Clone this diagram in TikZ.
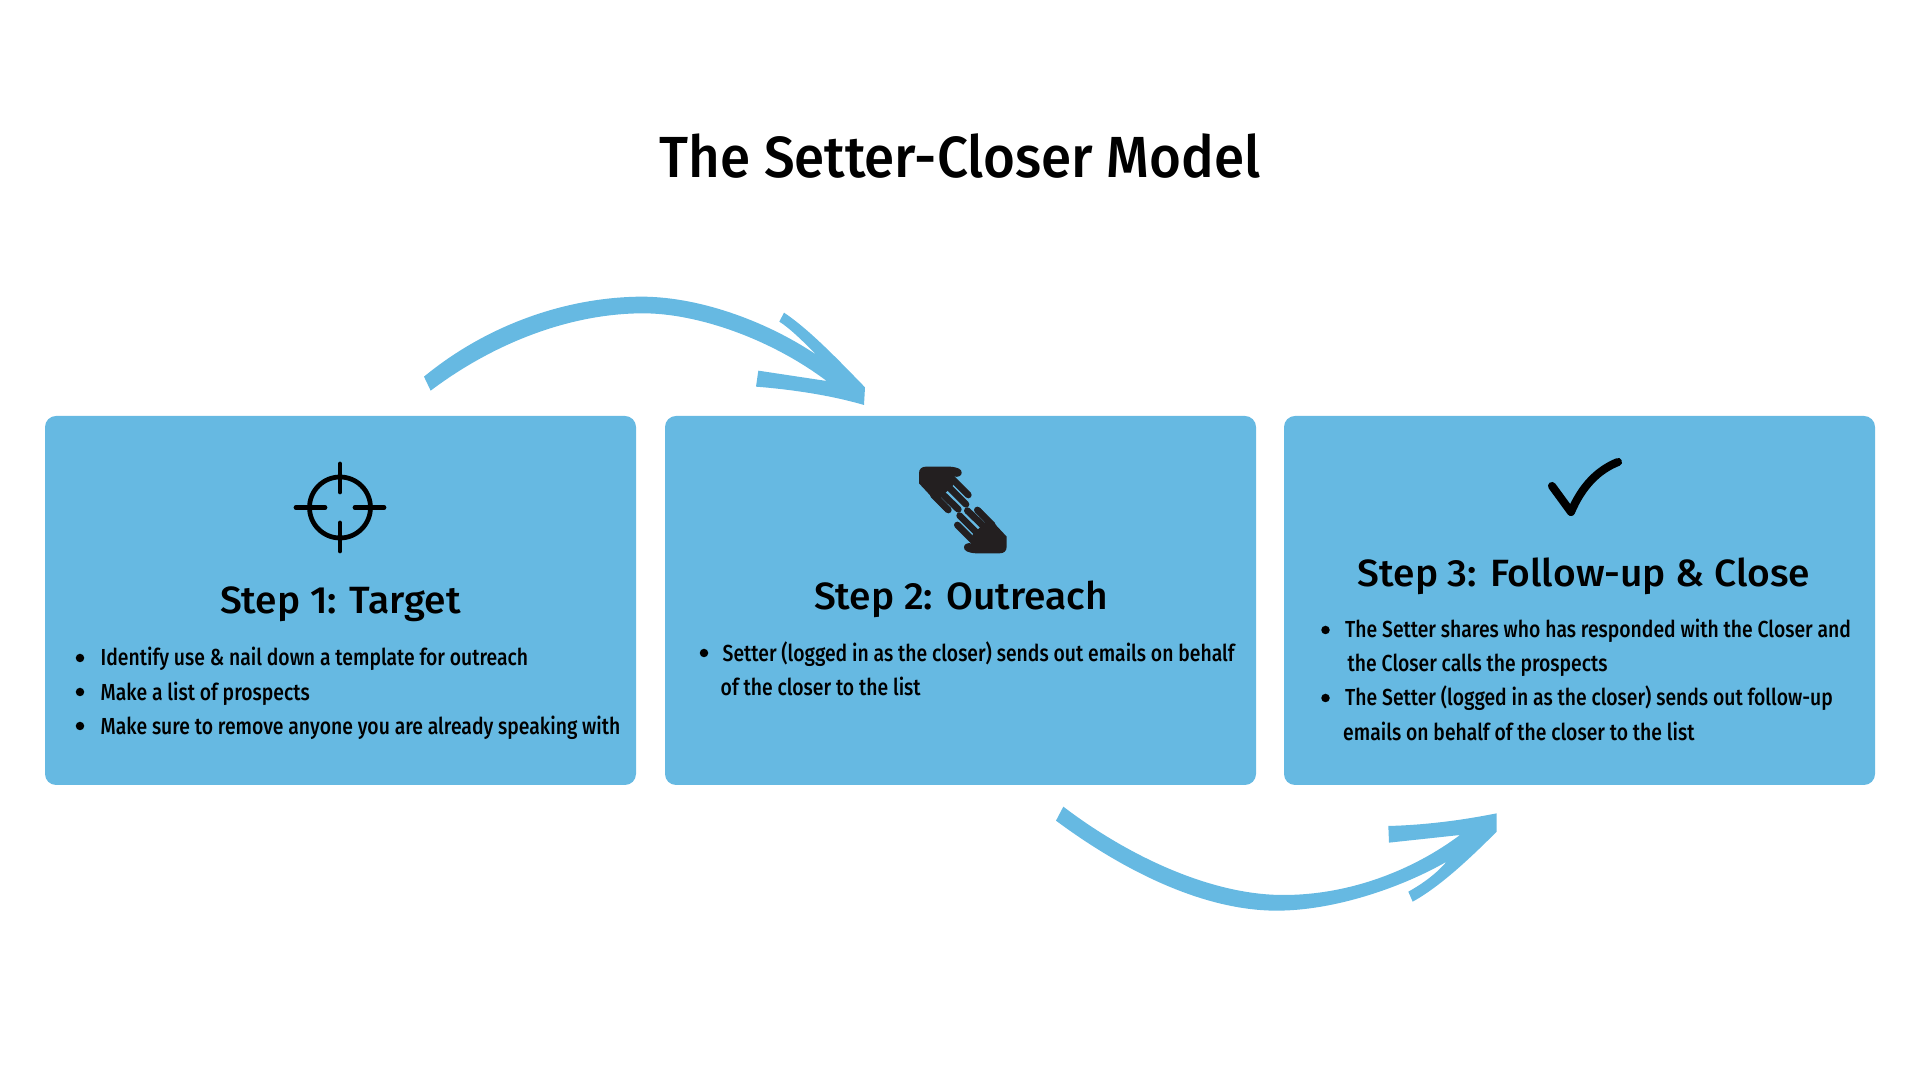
\documentclass[tikz,border=0pt]{standalone}
\usepackage{fontspec}
\setmainfont{Fira Sans}
\newfontfamily\titlefont[FakeStretch=0.943]{Fira Sans Medium}
\newfontfamily\headfont[FakeStretch=1.025]{Fira Sans Medium}
\newfontfamily\bodyfont[FakeStretch=0.834]{Fira Sans Medium}
\definecolor{boxblue}{HTML}{66B9E2}
\definecolor{ink}{HTML}{000000}
\definecolor{handink}{HTML}{231F20}
\tikzset{
  panel/.style={fill=boxblue,draw=none,rounded corners=1.1mm},
  titletext/.style={anchor=base,inner sep=0,font=\titlefont\fontsize{16.5}{18}\selectfont,text=ink},
  headtext/.style={anchor=base,inner sep=0,font=\headfont\fontsize{10.8}{12}\selectfont,text=ink},
  bodytext/.style={anchor=base west,inner sep=0,font=\bodyfont\fontsize{6.6}{8}\selectfont,text=ink},
  bulletdot/.style={circle,fill=ink,inner sep=0,minimum size=0.085cm},
  brush/.style={fill=boxblue,draw=none},
  iconline/.style={draw=ink,line width=1.35pt,line cap=round},
}
\newcommand{\handshape}{%
  \fill[handink] (87,100) -- (87,70) .. controls (87,57) and (95,50) .. (108,50)
     -- (180,50) .. controls (205,52) and (215,58) .. (215,68)
     .. controls (215,78) and (205,82) .. (192,80) -- (190,105) -- (170,125) -- (152,140) -- (168,187) -- cycle;
  \draw[handink,line width=1.9pt,line cap=round]
     (180,80) -- (235,135) (165,100) -- (228,163) (150,125) -- (205,178) (130,135) -- (175,180);
}
\begin{document}
\begin{tikzpicture}[x=0.01cm,y=-0.01cm]
\useasboundingbox (0,0) rectangle (1920,1080);
\node[titletext] (title) at (960,178) {The Setter-Closer Model};

\fill[panel] (45,416) rectangle (636,785);
\fill[panel] (665,416) rectangle (1256,785);
\fill[panel] (1284,416) rectangle (1875,785);

% crosshair icon
\draw[iconline] (340,507.5) circle (30.5);
\draw[iconline] (340,464) -- (340,492) (340,523) -- (340,551)
                (296,507.5) -- (325,507.5) (355,507.5) -- (384,507.5);

% hands icon
\begin{scope}[shift={(890,450)},x=0.01cm/3,y=-0.01cm/3]
  \handshape
\end{scope}
\begin{scope}[shift={(1035.67,570)},x=-0.01cm/3,y=0.01cm/3]
  \handshape
\end{scope}

% check icon
\draw[draw=ink,line width=2.3pt,line cap=round,line join=round]
   (1552,486) -- (1571,512) .. controls (1582,486) and (1598,470) .. (1618,462);

% headings
\node[headtext] (h1) at (340.5,614) {Step 1: Target};
\node[headtext] (h2) at (961,610) {Step 2: Outreach};
\node[headtext] (h3) at (1584,587) {Step 3: Follow-up \& Close};

% step 1 body
\node[bulletdot] (b11) at (80,658) {};
\node[bulletdot] (b12) at (80,692) {};
\node[bulletdot] (b13) at (80,726) {};
\node[bodytext] (t11) at (100,666) {Identify use \& nail down a template for outreach};
\node[bodytext] (t12) at (100,701) {Make a list of prospects};
\node[bodytext] (t13) at (100,735) {Make sure to remove anyone you are already speaking with};

% step 2 body
\node[bulletdot] (b21) at (704,653) {};
\node[bodytext] (t21) at (722,662) {Setter (logged in as the closer) sends out emails on behalf};
\node[bodytext] (t22) at (720,696) {of the closer to the list};

% step 3 body
\node[bulletdot] (b31) at (1325.5,630) {};
\node[bulletdot] (b32) at (1325.5,698) {};
\node[bodytext] (t31) at (1344.5,638) {The Setter shares who has responded with the Closer and};
\node[bodytext] (t32) at (1347,672) {the Closer calls the prospects};
\node[bodytext] (t33) at (1344.5,706) {The Setter (logged in as the closer) sends out follow-up};
\node[bodytext] (t34) at (1342.5,741) {emails on behalf of the closer to the list};

% arrows
\begin{scope}[shift={(410,280)},x=0.01cm/3,y=-0.01cm/3]
  \fill[brush] (42,290) .. controls (230,135) and (470,50) .. (700,50)
     .. controls (880,52) and (1080,130) .. (1220,225)
     .. controls (1180,185) and (1140,145) .. (1108,125) -- (1122,98)
     .. controls (1200,150) and (1290,245) .. (1365,322) -- (1362,375)
     .. controls (1260,345) and (1140,328) .. (1038,320) -- (1045,272)
     -- (1250,303) .. controls (1080,175) and (860,100) .. (700,100)
     .. controls (480,100) and (250,190) .. (62,332) -- cycle;
\end{scope}
\begin{scope}[shift={(1050,800)},x=0.01cm/3,y=-0.01cm/3]
  \fill[brush] (40,20) .. controls (230,165) and (480,285) .. (700,285)
     .. controls (900,285) and (1090,210) .. (1230,105)
     -- (1017,128) -- (1015,78) .. controls (1130,75) and (1240,60) .. (1340,40)
     -- (1340,95) .. controls (1260,175) and (1170,260) .. (1088,305)
     -- (1075,275) .. controls (1120,250) and (1160,220) .. (1190,185)
     .. controls (1050,265) and (850,332) .. (680,332)
     .. controls (440,332) and (190,190) .. (18,62) -- cycle;
\end{scope}
\end{tikzpicture}
\end{document}
